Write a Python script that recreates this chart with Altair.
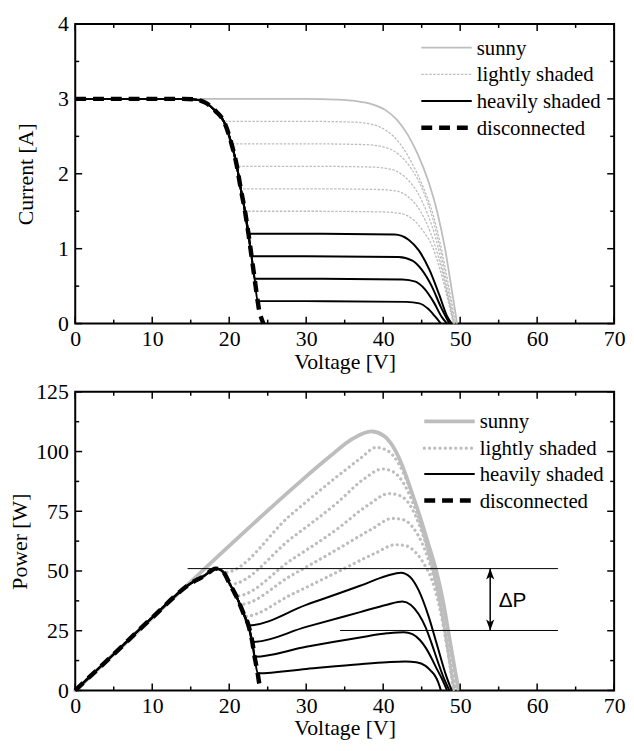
import altair as alt
import pandas as pd

FONT = "Liberation Serif"
SANS = "Liberation Sans"
GREY = "#bdbdbd"
W = 545

# ---------------- tick / label values ----------------
v_major = [0, 10, 20, 30, 40, 50, 60, 70]
v_minor = [5, 15, 25, 35, 45, 55, 65]
i_major = [0, 1, 2, 3, 4]
i_minor = [0.5, 1.5, 2.5, 3.5]
p_major = [0, 25, 50, 75, 100, 125]
p_minor = [12.5, 37.5, 62.5, 87.5, 112.5]
legend_labels = ["sunny", "lightly shaded", "heavily shaded", "disconnected"]

# ---------------- top panel: current vs voltage ----------------
iv_common_v = [0, 5, 10, 14, 15.7, 16.9, 18.2, 19.3, 20.3, 21.0, 21.5, 22.05, 22.5, 22.9, 23.3, 23.7]
iv_common_i = [3.0, 3.0, 3.0, 3.0, 2.99, 2.95, 2.84, 2.70, 2.40, 2.10, 1.80, 1.50, 1.20, 0.90, 0.60, 0.30]

iv_sunny_v = [0, 10, 20, 30, 34, 36.5, 38.5, 40.3, 41.8, 43.2, 44.5, 45.8, 47.0, 48.0, 48.8, 49.3, 49.6]
iv_sunny_i = [3.0, 3.0, 3.0, 3.0, 2.99, 2.97, 2.93, 2.85, 2.72, 2.52, 2.26, 1.92, 1.50, 1.02, 0.52, 0.20, 0.0]

iv_l27_v = [19.3, 30, 36, 38.5, 40.5, 42.2, 43.8, 45.2, 46.5, 47.6, 48.6, 49.4]
iv_l27_i = [2.70, 2.70, 2.69, 2.66, 2.57, 2.40, 2.13, 1.82, 1.45, 0.98, 0.45, 0.0]
iv_l24_v = [20.3, 30, 37.5, 40, 42, 43.7, 45.2, 46.5, 47.6, 48.5, 49.3]
iv_l24_i = [2.40, 2.40, 2.39, 2.36, 2.26, 2.06, 1.77, 1.38, 0.90, 0.42, 0.0]
iv_l21_v = [21.0, 30, 38.5, 41, 42.8, 44.4, 45.7, 46.8, 47.8, 48.6, 49.2]
iv_l21_i = [2.10, 2.10, 2.09, 2.06, 1.96, 1.76, 1.48, 1.15, 0.70, 0.28, 0.0]
iv_l18_v = [21.5, 30, 39.5, 41.7, 43.4, 44.9, 46.2, 47.2, 48.1, 48.8, 49.15]
iv_l18_i = [1.80, 1.80, 1.79, 1.77, 1.68, 1.49, 1.20, 0.88, 0.50, 0.18, 0.0]
iv_l15_v = [22.05, 30, 40.2, 42.3, 44, 45.3, 46.3, 47.3, 48.2, 48.8, 49.1]
iv_l15_i = [1.50, 1.50, 1.49, 1.47, 1.38, 1.22, 1.05, 0.75, 0.40, 0.14, 0.0]

iv_h12_v = [22.5, 30, 41.5, 43.3, 44.6, 46, 47.3, 48.3, 48.9]
iv_h12_i = [1.20, 1.20, 1.19, 1.12, 0.98, 0.72, 0.38, 0.10, 0.0]
iv_h09_v = [22.9, 30, 42.0, 43.8, 45.0, 46.3, 47.5, 48.6]
iv_h09_i = [0.90, 0.90, 0.89, 0.84, 0.72, 0.50, 0.22, 0.0]
iv_h06_v = [23.3, 30, 42.5, 44.2, 45.4, 46.6, 47.6, 48.3]
iv_h06_i = [0.60, 0.60, 0.59, 0.56, 0.46, 0.28, 0.09, 0.0]
iv_h03_v = [23.7, 30, 43.0, 44.7, 45.8, 46.7, 47.5]
iv_h03_i = [0.30, 0.30, 0.29, 0.27, 0.20, 0.10, 0.0]

iv_disc_v = [23.85, 24.15, 24.45]
iv_disc_i = [0.20, 0.08, 0.0]

# ---------------- bottom panel: power vs voltage ----------------
pv_common_v = [0, 5, 10, 15, 16.9, 17.6, 18.2, 18.8, 19.3, 20.1, 21.0, 21.8, 22.5, 23.0, 23.3, 23.7]
pv_common_p = [0, 15.2, 30.5, 44.8, 48.3, 50.0, 51.0, 50.6, 49.3, 44.4, 38.9, 32.7, 27.2, 20.3, 14.1, 7.2]

pv_sunny_v = [0, 10, 20, 28.9, 33.1, 36.1, 38.45, 40.0, 41.3, 42.5, 43.6, 44.7, 45.8, 46.9, 47.8, 48.6, 49.3, 49.8]
pv_sunny_p = [0, 30.3, 60.5, 86.5, 98.0, 105.5, 108.4, 106.8, 102, 94, 84, 73.5, 62, 50, 37, 22, 9, 0]

pv_l27_v = [19.3, 28, 34, 37, 39.1, 40.6, 42.0, 43.3, 44.5, 45.6, 46.7, 47.7, 48.6, 49.5]
pv_l27_p = [49.3, 73.5, 89.5, 97, 101.7, 100.3, 95, 86, 75.5, 63.5, 49, 32, 15, 0]
pv_l24_v = [20.1, 28, 34, 37.5, 39.9, 41.3, 42.6, 43.8, 45.0, 46.2, 47.3, 48.3, 49.0, 49.4]
pv_l24_p = [44.4, 63.5, 78.5, 88.5, 92.7, 91.5, 87, 79, 68, 54, 37, 19, 7, 0]
pv_l21_v = [20.9, 28, 34, 38, 40.8, 42.2, 43.5, 44.6, 45.7, 46.8, 47.8, 48.6, 49.2]
pv_l21_p = [39.5, 54.5, 67.5, 77.5, 82.4, 81.5, 77.5, 70, 59.5, 46, 29, 12.5, 0]
pv_l18_v = [21.4, 28, 34, 38.5, 41.2, 42.6, 43.8, 45.0, 46.1, 47.1, 48.0, 48.7, 49.15]
pv_l18_p = [36, 48, 59, 67.5, 72, 71.5, 68.5, 62, 52.5, 40, 25, 10, 0]
pv_l15_v = [22.0, 28, 34, 39, 41.6, 43.0, 44.3, 45.3, 46.3, 47.3, 48.2, 48.8, 49.1]
pv_l15_p = [31, 40, 49.5, 57.5, 61, 60.5, 57.5, 53, 46.5, 35, 20, 8, 0]

pv_h12_v = [22.5, 30, 37, 40.5, 42.3, 43.5, 44.6, 45.9, 47.0, 48.2, 48.9]
pv_h12_p = [27.2, 35.8, 43.8, 48, 49.3, 47.5, 42, 31, 19, 6, 0]
pv_h09_v = [23.0, 30, 37, 40.5, 42.5, 43.6, 44.6, 45.5, 46.3, 47.1, 47.8, 48.6]
pv_h09_p = [20.3, 26.6, 32.8, 35.9, 37.2, 35.8, 32.0, 26.5, 19.6, 12, 5.8, 0]
pv_h06_v = [23.3, 30, 37, 40.5, 42.7, 43.8, 44.8, 45.6, 46.3, 47.0, 47.6, 48.3]
pv_h06_p = [14.1, 18.3, 22.2, 23.9, 24.4, 23.6, 21.0, 17.5, 13.4, 8.8, 5.1, 0]
pv_h03_v = [23.7, 30, 37, 40.5, 42.9, 44.3, 45.5, 46.2, 46.7, 47.1, 47.5]
pv_h03_p = [7.2, 9.0, 11.0, 11.8, 12.1, 11.8, 10.3, 8.2, 6.3, 3.8, 0]

pv_disc_v = [23.9, 24.1]
pv_disc_p = [3.0, 1.0]

# delta-P annotation
dp_line_v = [14.6, 34.4]
dp_line_v2 = [62.7, 62.7]
dp_line_p = [51.0, 25.1]
dp_arrow_v = [53.9]
dp_label_v = [55.0]
dp_label_p = [37.5]
dp_label = ["\u0394P"]


# ---------------- helpers ----------------
def join(cv, cy, tv, ty):
    pre = [(v, y) for v, y in zip(cv, cy) if v < tv[0]]
    return [p[0] for p in pre] + list(tv), [p[1] for p in pre] + list(ty)


def frame(curves, ycol):
    rows = []
    for name, (vs, ys) in curves.items():
        for k, (v, y) in enumerate(zip(vs, ys)):
            rows.append({"V": v, ycol: y, "curve": name, "k": k})
    return pd.DataFrame(rows)


def axis_x():
    return alt.Axis(values=v_major, title="Voltage [V]", ticks=False, domain=False, grid=False,
                    labelFont=FONT, labelFontSize=22, labelColor="black", labelPadding=5,
                    labelFlush=False, format="d",
                    titleFont=FONT, titleFontSize=22, titleFontWeight="normal",
                    titleColor="black", titlePadding=2)


def axis_y(title, values, pad):
    return alt.Axis(values=values, title=title, ticks=False, domain=False, grid=False,
                    labelFont=FONT, labelFontSize=22, labelColor="black", labelPadding=7,
                    labelFlush=False, format="d",
                    titleFont=FONT, titleFontSize=22, titleFontWeight="normal",
                    titleColor="black", titlePadding=pad)


def panel(ycol, ytitle, ydomain, ymajor, yminor, curves, styles, leg_x, leg_ys, h, tpad, extra):
    xenc = alt.X("V:Q", scale=alt.Scale(domain=[0, 70], nice=False, zero=False), axis=axis_x())
    yenc = alt.Y(f"{ycol}:Q", scale=alt.Scale(domain=ydomain, nice=False, zero=False),
                 axis=axis_y(ytitle, ymajor, tpad))
    layers = []
    for kind in ["sunny", "light", "heavy", "disc"]:
        df = frame(curves[kind], ycol)
        st = styles[kind]
        layers.append(
            alt.Chart(df).mark_line(interpolate="monotone", **st).encode(
                x=xenc, y=yenc, detail="curve:N", order="k:Q")
        )
    layers += extra(xenc, yenc)
    # inward ticks on all four sides
    for vals, ln in ((v_major, 7), (v_minor, 4)):
        d = pd.DataFrame({"V": vals})
        base = alt.Chart(d).mark_rule(color="black", strokeWidth=1.5)
        layers.append(base.encode(x=xenc, y=alt.value(h), y2=alt.value(h - ln)))
        layers.append(base.encode(x=xenc, y=alt.value(0), y2=alt.value(ln)))
    for vals, ln in ((ymajor, 7), (yminor, 4)):
        d = pd.DataFrame({ycol: vals})
        base = alt.Chart(d).mark_rule(color="black", strokeWidth=1.5)
        layers.append(base.encode(y=yenc, x=alt.value(0), x2=alt.value(ln)))
        layers.append(base.encode(y=yenc, x=alt.value(W), x2=alt.value(W - ln)))
    # legend
    dummy = pd.DataFrame({"a": [0]})
    for kind, lab, ly in zip(["sunny", "light", "heavy", "disc"], legend_labels, leg_ys):
        st = styles[kind]
        layers.append(alt.Chart(dummy).mark_rule(**st).encode(
            x=alt.value(leg_x), x2=alt.value(leg_x + 51), y=alt.value(ly)))
        layers.append(alt.Chart(dummy).mark_text(
            font=FONT, fontSize=21, color="black", align="left", baseline="middle").encode(
            x=alt.value(leg_x + 56), y=alt.value(ly + 1), text=alt.value(lab)))
    return alt.layer(*layers).properties(width=W, height=h)


# ---------------- build curves ----------------
top_curves = {
    "sunny": {"s": (iv_sunny_v, iv_sunny_i)},
    "light": {
        "l27": join(iv_common_v, iv_common_i, iv_l27_v, iv_l27_i),
        "l24": join(iv_common_v, iv_common_i, iv_l24_v, iv_l24_i),
        "l21": join(iv_common_v, iv_common_i, iv_l21_v, iv_l21_i),
        "l18": join(iv_common_v, iv_common_i, iv_l18_v, iv_l18_i),
        "l15": join(iv_common_v, iv_common_i, iv_l15_v, iv_l15_i),
    },
    "heavy": {
        "h12": join(iv_common_v, iv_common_i, iv_h12_v, iv_h12_i),
        "h09": join(iv_common_v, iv_common_i, iv_h09_v, iv_h09_i),
        "h06": join(iv_common_v, iv_common_i, iv_h06_v, iv_h06_i),
        "h03": join(iv_common_v, iv_common_i, iv_h03_v, iv_h03_i),
    },
    "disc": {"d": join(iv_common_v, iv_common_i, iv_disc_v, iv_disc_i)},
}
bot_curves = {
    "sunny": {"s": (pv_sunny_v, pv_sunny_p)},
    "light": {
        "l27": join(pv_common_v, pv_common_p, pv_l27_v, pv_l27_p),
        "l24": join(pv_common_v, pv_common_p, pv_l24_v, pv_l24_p),
        "l21": join(pv_common_v, pv_common_p, pv_l21_v, pv_l21_p),
        "l18": join(pv_common_v, pv_common_p, pv_l18_v, pv_l18_p),
        "l15": join(pv_common_v, pv_common_p, pv_l15_v, pv_l15_p),
    },
    "heavy": {
        "h12": join(pv_common_v, pv_common_p, pv_h12_v, pv_h12_p),
        "h09": join(pv_common_v, pv_common_p, pv_h09_v, pv_h09_p),
        "h06": join(pv_common_v, pv_common_p, pv_h06_v, pv_h06_p),
        "h03": join(pv_common_v, pv_common_p, pv_h03_v, pv_h03_p),
    },
    "disc": {"d": join(pv_common_v, pv_common_p, pv_disc_v, pv_disc_p)},
}

top_styles = {
    "sunny": dict(color=GREY, strokeWidth=1.8),
    "light": dict(color=GREY, strokeWidth=1.3, strokeDash=[2.5, 1.5]),
    "heavy": dict(color="black", strokeWidth=2),
    "disc": dict(color="black", strokeWidth=4.5, strokeDash=[11, 7]),
}
bot_styles = {
    "sunny": dict(color=GREY, strokeWidth=3.8),
    "light": dict(color=GREY, strokeWidth=3.2, strokeDash=[0.1, 5.2], strokeCap="round"),
    "heavy": dict(color="black", strokeWidth=2),
    "disc": dict(color="black", strokeWidth=4.5, strokeDash=[11, 7]),
}


def no_extra(xenc, yenc):
    return []


def dp_extra(xenc, yenc):
    lines = pd.DataFrame({"V": dp_line_v, "V2": dp_line_v2, "P": dp_line_p})
    arrow = pd.DataFrame({"V": dp_arrow_v, "P": [dp_line_p[1]], "P2": [dp_line_p[0]]})
    up = pd.DataFrame({"V": dp_arrow_v, "P": [dp_line_p[0]]})
    down = pd.DataFrame({"V": dp_arrow_v, "P": [dp_line_p[1]]})
    lab = pd.DataFrame({"V": dp_label_v, "P": dp_label_p, "t": dp_label})
    return [
        alt.Chart(lines).mark_rule(color="black", strokeWidth=1).encode(x=xenc, x2="V2:Q", y=yenc),
        alt.Chart(arrow).mark_rule(color="black", strokeWidth=1.5).encode(x=xenc, y=yenc, y2="P2:Q"),
        alt.Chart(up).mark_point(shape="M0,0L0.75,2L0,1.5L-0.75,2Z", filled=True, color="black",
                                 size=121, opacity=1).encode(x=xenc, y=yenc),
        alt.Chart(down).mark_point(shape="M0,0L0.75,-2L0,-1.5L-0.75,-2Z", filled=True, color="black",
                                   size=121, opacity=1).encode(x=xenc, y=yenc),
        alt.Chart(lab).mark_text(font=SANS, fontSize=21, color="black",
                                 align="left", baseline="middle").encode(x=xenc, y=yenc, text="t:N"),
    ]


top = panel("I", "Current [A]", [0, 4], i_major, i_minor, top_curves, top_styles,
            350, [24, 51, 78, 105], 303, 20, no_extra)
bottom = panel("P", "Power [W]", [0, 125], p_major, p_minor, bot_curves, bot_styles,
               353, [30, 57, 83, 110], 302, 4, dp_extra)

chart = alt.vconcat(top, bottom, spacing=7).configure_view(
    stroke="black", strokeWidth=2
).properties(padding={"left": 0, "top": 0, "right": 0, "bottom": 0}, background="white")

chart.save("out.html", embed_options={"renderer": "svg", "actions": False})
